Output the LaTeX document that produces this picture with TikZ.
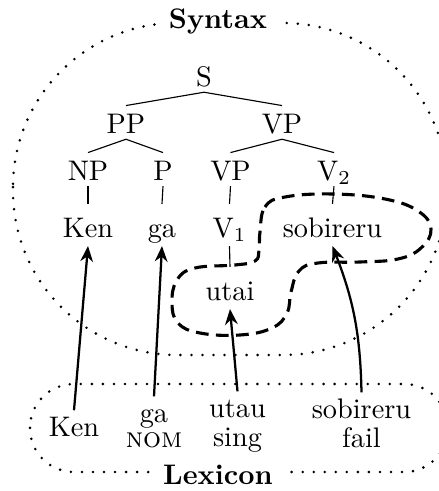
\documentclass[tikz,border=0pt]{standalone}
\usetikzlibrary{arrows.meta}
\begin{document}
\begin{tikzpicture}[x=0.3534pt,y=-0.3534pt,
  cat/.style={inner sep=1pt, text height=8.5pt, text depth=1pt, anchor=base},
  word/.style={inner sep=1pt, text height=10.5pt, text depth=2pt, anchor=base},
  lex/.style={inner sep=0.5pt, align=center, anchor=base},
  dotline/.style={line width=1pt, dash pattern=on 0pt off 3.9pt, line cap=round},
  blob/.style={line width=1.1pt, dash pattern=on 4.5pt off 2.6pt},
  lexarrow/.style={thick, -{Stealth[length=5.5pt,width=4.5pt]}},
  title/.style={font=\bfseries, fill=white, inner xsep=4pt, inner ysep=2pt, anchor=base}]
\useasboundingbox (0,0) rectangle (439,491);

% regions
\draw[dotline, rounded corners=58pt] (13,23) rectangle (447,355);
\draw[dotline, rounded corners=15.5pt] (30,384) rectangle (448,472);
\node[title] (syn) at (218,28) {Syntax};
\node[title] (lexl) at (218,484) {Lexicon};

% tree
\node[cat] (S) at (204,86) {S};
\node[cat] (PP) at (126,133) {PP};
\node[cat] (VP) at (282,133) {VP};
\node[cat] (NP) at (88,180) {NP};
\node[cat] (P) at (163,180) {P};
\node[cat] (VPb) at (230.5,180) {VP};
\node[cat] (V2) at (334,180) {V$_2$};
\node[word] (Ken) at (88,237) {Ken};
\node[word] (ga) at (162,237) {ga};
\node[word] (V1) at (229.5,237) {V$_1$};
\node[word] (sob) at (332.5,237) {sobireru};
\node[word] (utai) at (230,300) {utai};

\draw (S.south) -- (PP.north);
\draw (S.south) -- (VP.north);
\draw (PP.south) -- (NP.north);
\draw (PP.south) -- (P.north);
\draw (VP.south) -- (VPb.north);
\draw (VP.south) -- (V2.north);
\draw (NP.south) -- (Ken.north);
\draw (P.south) -- (ga.north);
\draw (VPb.south) -- (V1.north);
\draw (V2.south) -- (sob.north);
\draw (V1.south) -- (utai.north);

% dashed blob
\draw[blob] plot[smooth cycle, tension=0.7] coordinates {
 (260,232) (265,207) (285,197) (333,194) (385,199) (418,211) (431,229)
 (421,248) (398,259) (360,262) (318,263) (299,271) (291,292) (287,313)
 (272,328) (240,335) (200,333) (178,323) (172,303) (177,280) (195,268)
 (235,265) (255,261) (259,250)};

% lexicon
\node[lex] (lKen) at (74,436) {\strut Ken};
\node[lex] (lga) at (154,447) {\strut ga\\[-3.2pt]\textsc{nom}};
\node[lex] (lutau) at (237.5,446) {\strut utau\\[-1.8pt]sing};
\node[lex] (lsob) at (361.5,447) {\strut sobireru\\[-1.8pt]fail};

\draw[lexarrow] (lKen.north) -- (Ken.south);
\draw[lexarrow] (lga.north) -- (ga.south);
\draw[lexarrow] (lutau.north) -- (utai.south);
\draw[lexarrow] (lsob.north) to[bend right=10] (sob.south);
\end{tikzpicture}
\end{document}
